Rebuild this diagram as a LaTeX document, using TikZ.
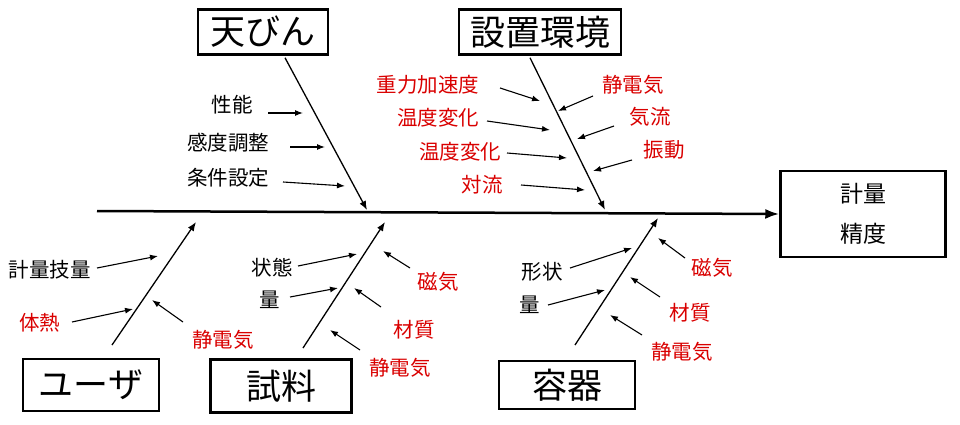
\documentclass[tikz,border=0pt]{standalone}
\usepackage{fontspec}
\usetikzlibrary{arrows.meta}
\setmainfont{Noto Sans CJK JP}
\begin{document}
\begin{tikzpicture}[x=1pt,y=-1pt,
  box/.style={draw,line width=2.5pt,minimum width=#1,inner sep=0pt,font=\fontsize{35}{37}\selectfont},
  lab/.style={font=\fontsize{20.5}{22}\selectfont},
  rlab/.style={lab,text=red!85!black},
  arr/.style={-{Latex[length=8pt,width=6pt]},line width=1.1pt},
  bone/.style={-{Latex[length=9pt,width=7pt]},line width=1.3pt}]
\useasboundingbox (0,0) rectangle (960,425);
% spine and head
\node[draw,line width=2.5pt,minimum width=165pt,minimum height=86pt,align=center,font=\fontsize{23}{40}\selectfont] (head) at (863,214) {計量\\精度};
\coordinate (s0) at (97,211);
\draw[-{Latex[length=14pt,width=10pt]},line width=2.5pt] (s0) -- (head.west);
% boxes
\node[box=130pt,minimum height=45pt] (b1) at (263,32) {天びん};
\node[box=162pt,minimum height=45pt] (b2) at (540,32) {設置環境};
\node[box=136pt,minimum height=52pt] (b3) at (91,385) {ユーザ};
\node[box=141pt,minimum height=53pt] (b4) at (281,386) {試料};
\node[box=136pt,minimum height=48pt] (b5) at (567,385) {容器};
% bones
\coordinate (t1) at (367,210); \draw[bone] (b1.south) ++(22,2) coordinate (u1) -- (t1);
\coordinate (t2) at (605,210); \draw[bone] (b2.south) ++(-10,2) coordinate (u2) -- (t2);
\coordinate (p3) at (112,345); \coordinate (q3) at (196,222); \draw[bone] (p3) -- (q3);
\coordinate (p4) at (303,348); \coordinate (q4) at (385,222); \draw[bone] (p4) -- (q4);
\coordinate (p5) at (575,345); \coordinate (q5) at (658,218); \draw[bone] (p5) -- (q5);
% 天びん
\node[lab] (a1) at (232,105) {性能}; \coordinate (e1) at (303,113); \draw[arr] (268,113) -- (e1);
\node[lab] (a2) at (228,143) {感度調整}; \coordinate (e2) at (325,147); \draw[arr] (290,147) -- (e2);
\node[lab] (a3) at (228,178) {条件設定}; \coordinate (e3) at (345,186); \draw[arr] (283,182) -- (e3);
% 設置環境
\node[rlab] (c1) at (428,85) {重力加速度}; \draw[arr] (500,88) -- (540,101);
\node[rlab] (c2) at (438,118) {温度変化}; \draw[arr] (487,121) -- (550,130);
\node[rlab] (c3) at (460,152) {温度変化}; \draw[arr] (507,153) -- (567,158);
\node[rlab] (c4) at (482,185) {対流}; \draw[arr] (521,185) -- (585,190);
\node[rlab] (c5) at (633,85) {静電気}; \draw[arr] (593,96) -- (558,111);
\node[rlab] (c6) at (650,117) {気流}; \draw[arr] (614,126) -- (577,139);
\node[rlab] (c7) at (664,150) {振動}; \draw[arr] (632,160) -- (593,171);
% ユーザ
\node[lab] (d1) at (50,270) {計量技量}; \draw[arr] (97,268) -- (158,256);
\node[rlab] (d2) at (40,323) {体熱}; \draw[arr] (72,322) -- (133,309);
\node[rlab] (d3) at (223,340) {静電気}; \draw[arr] (183,322) -- (152,300);
% 試料
\node[lab] (f1) at (272,268) {状態}; \draw[arr] (298,266) -- (357,254);
\node[lab] (f2) at (270,300) {量}; \draw[arr] (290,297) -- (338,288);
\node[rlab] (f3) at (438,282) {磁気}; \draw[arr] (410,268) -- (383,251);
\node[rlab] (f4) at (414,330) {材質}; \draw[arr] (381,307) -- (354,288);
\node[rlab] (f5) at (400,368) {静電気}; \draw[arr] (360,350) -- (330,330);
% 容器
\node[lab] (g1) at (542,272) {形状}; \draw[arr] (570,268) -- (632,248);
\node[lab] (g2) at (530,305) {量}; \draw[arr] (548,305) -- (605,290);
\node[rlab] (g3) at (712,268) {磁気}; \draw[arr] (685,258) -- (658,238);
\node[rlab] (g4) at (690,313) {材質}; \draw[arr] (660,297) -- (630,277);
\node[rlab] (g5) at (682,352) {静電気}; \draw[arr] (642,335) -- (610,315);
\end{tikzpicture}
\end{document}
